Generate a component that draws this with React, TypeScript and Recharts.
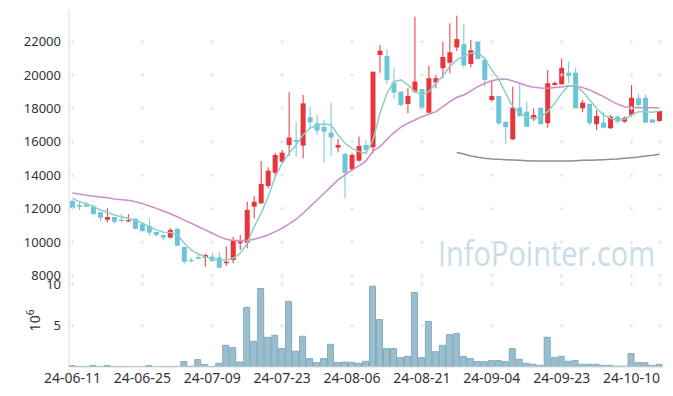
import React from 'react';
import { ComposedChart, Bar, Line, XAxis, YAxis } from 'recharts';

const dates = [
  '24-06-11','24-06-12','24-06-13','24-06-14','24-06-17','24-06-18','24-06-19','24-06-20','24-06-21','24-06-24',
  '24-06-25','24-06-26','24-06-27','24-06-28','24-07-01','24-07-02','24-07-03','24-07-04','24-07-05','24-07-08',
  '24-07-09','24-07-10','24-07-11','24-07-12','24-07-15','24-07-16','24-07-17','24-07-18','24-07-19','24-07-22',
  '24-07-23','24-07-24','24-07-25','24-07-26','24-07-29','24-07-30','24-07-31','24-08-01','24-08-02','24-08-05',
  '24-08-06','24-08-07','24-08-08','24-08-09','24-08-12','24-08-13','24-08-14','24-08-16','24-08-19','24-08-20',
  '24-08-21','24-08-22','24-08-23','24-08-26','24-08-27','24-08-28','24-08-29','24-08-30','24-09-02','24-09-03',
  '24-09-04','24-09-05','24-09-06','24-09-09','24-09-10','24-09-11','24-09-12','24-09-13','24-09-19','24-09-20',
  '24-09-23','24-09-24','24-09-25','24-09-26','24-09-27','24-09-30','24-10-02','24-10-04','24-10-07','24-10-08',
  '24-10-10','24-10-11','24-10-14','24-10-15','24-10-16',
];

const opens = [
  12470,12220,12260,12120,11790,11340,11500,11340,11250,11400,
  11070,10970,10610,10430,10270,10790,9710,8930,9110,9070,
  9130,9090,8740,8930,9930,9970,12120,12320,13360,14150,
  14810,15810,16110,15770,17470,17110,16900,16550,15650,15270,
  14360,14870,15810,15670,21190,21130,19540,19000,18260,19000,
  19160,17740,19540,20400,20730,21640,21840,20650,21990,20890,
  18500,18740,17200,16150,18040,17800,17350,18040,17110,19400,
  19440,20130,20130,18000,18260,17050,17150,16810,17500,17200,
  17600,18600,18630,17340,17250,
];
const highs = [
  12480,12420,12380,12220,11790,12020,11500,11670,11670,11430,
  11070,11430,10610,10430,10830,10890,9710,9070,9330,9330,
  9390,9410,9750,10330,10430,12420,12760,14850,14480,15350,
  15510,18960,17200,18800,18100,17600,17310,18330,16170,15330,
  15330,16310,16110,20190,21790,21530,20450,19000,19200,23480,
  19160,20540,20000,21980,23090,23540,23040,22100,21990,21090,
  19700,18740,17200,19290,19440,18400,18000,18040,20290,19600,
  20990,20790,20400,18500,18260,17900,17770,17600,17600,17500,
  19390,18840,18800,17340,17840,
];
const lows = [
  11970,11920,12100,11620,11260,11190,11130,11190,11190,10770,
  10570,10390,10330,10130,10230,9730,8740,8800,8970,8530,
  8830,8440,8570,8730,9530,9630,11430,12280,13220,13880,
  14720,15150,15110,15010,16810,16410,14740,15150,15360,12620,
  14240,14810,15270,15310,20130,19450,18550,18100,17700,18900,
  17900,17700,19200,19800,20100,21420,20430,20450,20950,19300,
  18400,17000,15870,16110,17500,16900,17250,17000,16840,19360,
  19400,19500,18000,17770,17000,16700,16840,16770,17100,17140,
  17500,18100,17140,17140,17200,
];
const closes = [
  12050,12120,12120,11680,11460,11500,11220,11260,11310,10800,
  10670,10570,10430,10270,10730,9790,8830,8870,9010,9230,
  8870,8470,8830,10130,10030,11920,12420,13480,14270,15210,
  15350,16250,15990,18300,17150,16670,16610,16250,15810,14150,
  15210,15750,15510,20190,21450,19700,18940,18200,18740,19600,
  18000,19800,19800,21070,21350,22140,20570,21470,20950,19700,
  18740,17110,16870,18040,17540,16900,17600,17060,19500,19520,
  20430,19950,18000,18340,17110,17540,16840,17500,17200,17440,
  18630,18200,17140,17140,17840,
];
// volume, millions of shares
const volumes = [
  0.17,0.07,0.07,0.17,0.07,0.17,0.07,0.07,0.07,0.02,
  0.02,0.17,0.02,0.07,0.07,0.07,0.65,0.1,0.89,0.3,
  0.07,0.45,2.62,2.34,0.6,7.18,3.1,9.48,3.59,3.83,
  2.22,7.9,1.9,3.71,1.01,0.53,1.01,2.74,0.55,0.6,
  0.57,0.45,0.69,9.76,5.73,2.22,2.22,1.13,1.29,8.99,
  1.13,5.49,1.85,2.62,3.91,4.03,1.29,1.01,0.65,0.65,
  0.77,0.77,0.65,2.22,0.93,0.45,0.33,0.2,3.59,1.13,
  1.29,0.69,0.77,0.33,0.33,0.33,0.2,0.2,0.1,0.1,
  1.61,0.53,0.53,0.2,0.33,
];
const ma5 = [
  12620,12420,12300,12120,11920,11790,11620,11520,11430,11310,
  11130,10920,10730,10590,10570,10430,9930,9530,9290,9130,
  8990,8950,8930,9030,9330,9930,10920,11730,12720,13910,
  14710,15310,15810,16410,16810,17000,17070,17000,16410,15910,
  15610,15410,15310,16110,17710,18900,19600,19700,19400,19000,
  18800,19000,19500,19950,20500,20900,21120,21300,21330,20950,
  20300,19730,18900,18100,17710,17470,17410,17500,17800,18300,
  18900,19340,19400,19000,18500,18000,17600,17410,17310,17350,
  17600,17800,17800,17770,17840,
];
const ma20 = [
  12940,12880,12800,12740,12700,12660,12580,12540,12500,12420,
  12300,12160,12020,11860,11700,11520,11320,11130,10920,10730,
  10530,10330,10170,10090,10090,10110,10170,10290,10430,10630,
  10830,11090,11370,11730,12120,12520,12920,13320,13720,14020,
  14320,14560,14860,15440,15710,16150,16550,16870,17110,17300,
  17500,17650,17800,18100,18400,18660,18800,19050,19300,19500,
  19650,19740,19760,19630,19500,19350,19260,19220,19200,19240,
  19280,19350,19340,19240,19100,18900,18700,18460,18250,18100,
  18060,18040,18040,18040,18040,
];
// long moving average, drawn only for the last 30 sessions
const maLongStart = 55;
const maLongValues = [
  15360,15270,15150,15070,15010,14970,14950,14930,14910,14890,
  14870,14850,14850,14850,14850,14850,14850,14870,14890,14890,
  14910,14930,14950,14970,15010,15050,15090,15150,15190,15250,
];

const tickDates = ['24-06-11','24-06-25','24-07-09','24-07-23','24-08-06','24-08-21','24-09-04','24-09-23','24-10-10'];
const priceTicks = [8000, 10000, 12000, 14000, 16000, 18000, 20000, 22000];
const volumeTicks = [5, 10];

const RED = '#e8353b';
const BLUE = '#6cc4d8';
const FONT = "'Noto Sans', 'DejaVu Sans', sans-serif";
const GRID = '#e2e2e2';

const data = dates.map((d, i) => ({
  date: d,
  open: opens[i],
  high: highs[i],
  low: lows[i],
  close: closes[i],
  range: [lows[i], highs[i]],
  volume: volumes[i],
  ma5: ma5[i],
  ma20: ma20[i],
  maLong: i >= maLongStart ? maLongValues[i - maLongStart] : null,
  isGridX: tickDates.includes(d) || i === dates.length - 1,
}));

const Candle = (props: any) => {
  const { x, y, width, height, payload } = props;
  if (x == null || y == null || !payload) return null;
  const top = Math.min(y, y + height);
  const bottom = Math.max(y, y + height);
  const { open, close, high, low } = payload;
  const span = high - low;
  const k = span > 0 ? (bottom - top) / span : 0;
  const yOf = (v: number) => top + (high - v) * k;
  const color = close > open ? RED : BLUE;
  const bTop = yOf(Math.max(open, close));
  const bBot = yOf(Math.min(open, close));
  const cx = x + width / 2;
  return (
    <g>
      <line x1={cx} x2={cx} y1={top} y2={bottom} stroke={color} strokeWidth={1} />
      <rect x={x} y={bTop} width={width} height={Math.max(bBot - bTop, 1.2)} fill={color} />
    </g>
  );
};

const PlusDot = (props: any) => {
  const { cx, cy, payload } = props;
  if (cx == null || cy == null || !payload || !payload.isGridX) return null;
  return (
    <path
      d={`M${cx - 2},${cy}H${cx + 2}M${cx},${cy - 2}V${cy + 2}`}
      stroke={GRID}
      strokeWidth={1}
      fill="none"
    />
  );
};

const VolUnitLabel = (props: any) => {
  const vb = props.viewBox || { x: 0, y: 10, width: 69, height: 89 };
  const cy = vb.y + vb.height / 2 - 2;
  return (
    <text
      transform={`translate(40,${cy}) rotate(-90)`}
      textAnchor="middle"
      fontSize={14}
      fill="#333"
      fontFamily={FONT}
    >
      10
      <tspan dy={-6} fontSize={10}>6</tspan>
    </text>
  );
};

const tickStyle = { fontSize: 13, fill: '#333', fontFamily: FONT };

export default function App() {
  return (
    <div style={{ position: 'absolute', left: 0, top: 0, width: 673, height: 396, background: '#fff' }}>
      <div style={{ position: 'absolute', left: 0, top: 0 }}>
        <ComposedChart width={673} height={290} data={data} margin={{ top: 10, right: 10, bottom: 12, left: 0 }}>
          <XAxis dataKey="date" orientation="top" height={0} tick={false} tickLine={false} axisLine={{ stroke: '#e6e6e6' }} />
          <YAxis
            yAxisId="p"
            domain={[7855, 23880]}
            ticks={priceTicks}
            interval={0}
            width={69}
            tickLine={false}
            axisLine={{ stroke: '#dcdcdc' }}
            tick={tickStyle}
            allowDataOverflow
          />
          <YAxis yAxisId="r" orientation="right" width={0} tick={false} tickLine={false} axisLine={{ stroke: '#e6e6e6' }} domain={[0, 1]} />
          {priceTicks.map((lv) => (
            <Line
              key={'g' + lv}
              yAxisId="p"
              dataKey={() => lv}
              stroke="none"
              dot={<PlusDot />}
              activeDot={false}
              legendType="none"
              isAnimationActive={false}
            />
          ))}
          <Bar yAxisId="p" dataKey="range" shape={<Candle />} barSize={5} isAnimationActive={false} />
          <Line yAxisId="p" dataKey="ma20" stroke="#cc8ec6" strokeWidth={1.5} dot={false} activeDot={false} isAnimationActive={false} />
          <Line yAxisId="p" dataKey="ma5" stroke="#8dcfc4" strokeWidth={1.5} dot={false} activeDot={false} isAnimationActive={false} />
          <Line yAxisId="p" dataKey="maLong" stroke="#8e8e8e" strokeWidth={1.5} dot={false} activeDot={false} connectNulls={false} isAnimationActive={false} />
        </ComposedChart>
      </div>
      <div style={{ position: 'absolute', left: 0, top: 268 }}>
        <ComposedChart width={673} height={128} data={data} margin={{ top: 10, right: 10, bottom: 0, left: 0 }}>
          <XAxis
            dataKey="date"
            ticks={tickDates}
            interval={0}
            height={29}
            tickLine={false}
            tickSize={4}
            tickMargin={2}
            axisLine={{ stroke: '#dcdcdc' }}
            tick={{ ...tickStyle, fontSize: 14 }}
          />
          <XAxis xAxisId="t" dataKey="date" orientation="top" height={0} tick={false} tickLine={false} axisLine={{ stroke: '#e3e3e3' }} />
          <YAxis
            domain={[0, 10.75]}
            ticks={volumeTicks}
            interval={0}
            width={69}
            tickLine={false}
            axisLine={{ stroke: '#dcdcdc' }}
            tick={tickStyle}
            allowDataOverflow
            label={<VolUnitLabel />}
          />
          <YAxis yAxisId="r" orientation="right" width={0} tick={false} tickLine={false} axisLine={{ stroke: '#e6e6e6' }} domain={[0, 1]} />
          {volumeTicks.map((lv) => (
            <Line
              key={'v' + lv}
              dataKey={() => lv}
              stroke="none"
              dot={<PlusDot />}
              activeDot={false}
              legendType="none"
              isAnimationActive={false}
            />
          ))}
          <Bar dataKey="volume" fill="#99bfcf" stroke="#82aabd" strokeWidth={1} barSize={6} isAnimationActive={false} />
        </ComposedChart>
      </div>
      <svg width={673} height={396} style={{ position: 'absolute', left: 0, top: 0, pointerEvents: 'none' }}>
        <text
          x={438}
          y={266}
          fontSize={34}
          fontFamily="'Open Sans', 'Noto Sans', sans-serif"
          fill="#c9dde7"
          textLength={217}
          lengthAdjust="spacingAndGlyphs"
        >
          InfoPointer.com
        </text>
      </svg>
    </div>
  );
}
